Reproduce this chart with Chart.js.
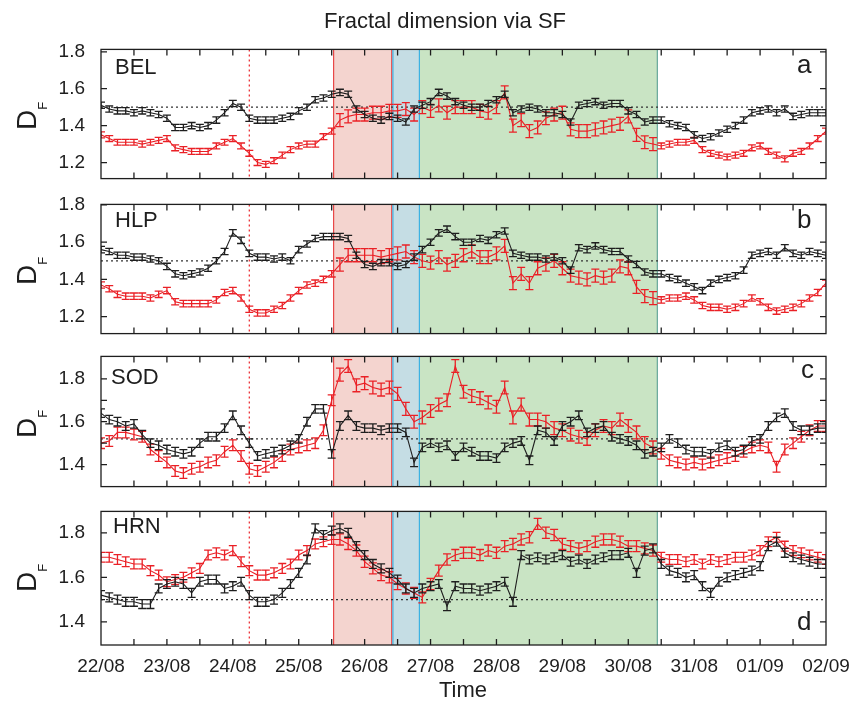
<!DOCTYPE html>
<html>
<head>
<meta charset="utf-8">
<script src="https://cdn.jsdelivr.net/npm/chart.js@4.4.1/dist/chart.umd.min.js"></script>
<style>
  body { margin: 0; background: #fff; }
  #page { position: relative; width: 857px; height: 707px; overflow: hidden;
          font-family: "Liberation Sans", Arial, sans-serif; color: #1e1e1e; }
  canvas { position: absolute; left: 0; }
  .txt { position: absolute; line-height: 1; white-space: nowrap; z-index: 5; }
  .ylab { position: absolute; line-height: 1; white-space: nowrap; z-index: 5;
          font-size: 28px; transform: translate(-50%, -50%) rotate(-90deg); }
  .ylab span { font-size: 13px; position: relative; top: 11px; }
</style>
</head>
<body>
<div id="page">
  <canvas id="panel0" width="857" height="168" style="top:30px"></canvas>
  <canvas id="panel1" width="857" height="168" style="top:185px"></canvas>
  <canvas id="panel2" width="857" height="169" style="top:337px"></canvas>
  <canvas id="panel3" width="857" height="215" style="top:492px"></canvas>

  <div class="txt" style="font-size:22px;left:445px;top:10px;transform:translateX(-50%)">Fractal dimension via SF</div>
  <div class="txt" style="font-size:22px;left:463px;top:679px;transform:translateX(-50%)">Time</div>

  <div class="ylab" style="left:27px;top:116px">D<span>F</span></div>
  <div class="ylab" style="left:27px;top:271px">D<span>F</span></div>
  <div class="ylab" style="left:27px;top:424px">D<span>F</span></div>
  <div class="ylab" style="left:27px;top:578px">D<span>F</span></div>

  <div class="txt" id="name0" style="font-size:22px;left:115px;top:56px"></div>
  <div class="txt" id="name1" style="font-size:22px;left:115px;top:209px"></div>
  <div class="txt" id="name2" style="font-size:22px;left:111px;top:366px"></div>
  <div class="txt" id="name3" style="font-size:22px;left:113px;top:515px"></div>

  <div class="txt" id="tag0" style="font-size:26px;left:797px;top:51px"></div>
  <div class="txt" id="tag1" style="font-size:26px;left:797px;top:206px"></div>
  <div class="txt" id="tag2" style="font-size:26px;left:801px;top:356px"></div>
  <div class="txt" id="tag3" style="font-size:26px;left:797px;top:608px"></div>
</div>

<script>
// x axis is days since 22/08 00:00, one sample every 3 hours
const dayLabels = ["22/08", "23/08", "24/08", "25/08", "26/08", "27/08", "28/08", "29/08", "30/08", "31/08", "01/09", "02/09"];
const dayTicks = [0, 1, 2, 3, 4, 5, 6, 7, 8, 9, 10, 11];
const sampleStep = 0.125;

const stations = ["BEL", "HLP", "SOD", "HRN"];
const panelTags = ["a", "b", "c", "d"];

const belBlack = [
  1.51, 1.49, 1.48, 1.48, 1.47, 1.48, 1.47, 1.46,
  1.44, 1.39, 1.39, 1.40, 1.39, 1.40, 1.43, 1.47,
  1.52, 1.50, 1.44, 1.43, 1.43, 1.43, 1.44, 1.45,
  1.48, 1.50, 1.54, 1.55, 1.57, 1.58, 1.57, 1.49,
  1.46, 1.44, 1.43, 1.45, 1.44, 1.42, 1.49, 1.51,
  1.53, 1.58, 1.56, 1.53, 1.51, 1.50, 1.50, 1.52,
  1.54, 1.57, 1.47, 1.49, 1.50, 1.49, 1.47, 1.47,
  1.46, 1.42, 1.51, 1.52, 1.53, 1.51, 1.52, 1.52,
  1.48, 1.46, 1.42, 1.43, 1.43, 1.41, 1.40, 1.39,
  1.35, 1.33, 1.34, 1.36, 1.38, 1.40, 1.43, 1.47,
  1.48, 1.49, 1.47, 1.49, 1.45, 1.46, 1.47, 1.47,
  1.47
];
const belRed = [
  1.35, 1.33, 1.31, 1.31, 1.31, 1.30, 1.31, 1.32,
  1.33, 1.28, 1.27, 1.26, 1.26, 1.26, 1.29, 1.31,
  1.33, 1.29, 1.25, 1.20, 1.19, 1.21, 1.24, 1.27,
  1.29, 1.30, 1.30, 1.34, 1.37, 1.43, 1.45, 1.46,
  1.46, 1.47, 1.47, 1.48, 1.48, 1.49, 1.46, 1.50,
  1.48, 1.51, 1.47, 1.50, 1.50, 1.50, 1.48, 1.47,
  1.50, 1.58, 1.40, 1.43, 1.37, 1.39, 1.44, 1.46,
  1.47, 1.38, 1.37, 1.37, 1.38, 1.39, 1.40, 1.41,
  1.45, 1.35, 1.31, 1.30, 1.29, 1.30, 1.31, 1.31,
  1.32, 1.27, 1.25, 1.24, 1.23, 1.24, 1.25, 1.28,
  1.29, 1.26, 1.24, 1.22, 1.25, 1.26, 1.29, 1.33,
  1.37
];
const hlpBlack = [
  1.56, 1.55, 1.53, 1.53, 1.52, 1.52, 1.51, 1.50,
  1.47, 1.43, 1.42, 1.43, 1.44, 1.46, 1.50, 1.55,
  1.65, 1.61, 1.54, 1.52, 1.52, 1.51, 1.52, 1.50,
  1.56, 1.59, 1.62, 1.63, 1.63, 1.63, 1.62, 1.53,
  1.48, 1.47, 1.49, 1.49, 1.47, 1.48, 1.52, 1.56,
  1.60, 1.65, 1.67, 1.63, 1.60, 1.60, 1.62, 1.61,
  1.64, 1.66, 1.54, 1.53, 1.52, 1.52, 1.51, 1.52,
  1.50, 1.45, 1.57, 1.56, 1.58, 1.56, 1.55, 1.55,
  1.51, 1.48, 1.44, 1.43, 1.43, 1.41, 1.40, 1.38,
  1.36, 1.34, 1.38, 1.40, 1.41, 1.42, 1.45, 1.53,
  1.54, 1.55, 1.53, 1.57, 1.54, 1.53, 1.55, 1.54,
  1.53
];
const hlpRed = [
  1.37, 1.35, 1.32, 1.31, 1.31, 1.31, 1.30, 1.32,
  1.34, 1.28, 1.27, 1.27, 1.27, 1.27, 1.29, 1.33,
  1.34, 1.30, 1.24, 1.22, 1.22, 1.24, 1.26, 1.30,
  1.34, 1.37, 1.38, 1.40, 1.43, 1.48, 1.53, 1.53,
  1.53, 1.53, 1.52, 1.53, 1.54, 1.55, 1.52, 1.50,
  1.49, 1.52, 1.48, 1.50, 1.53, 1.55, 1.52, 1.52,
  1.54, 1.58, 1.38, 1.43, 1.38, 1.46, 1.48, 1.50,
  1.46, 1.42, 1.41, 1.40, 1.42, 1.41, 1.42, 1.47,
  1.46, 1.36, 1.31, 1.30, 1.29, 1.30, 1.30, 1.31,
  1.29, 1.26, 1.25, 1.25, 1.24, 1.25, 1.27, 1.30,
  1.28, 1.25, 1.23, 1.24, 1.25, 1.27, 1.30, 1.33,
  1.38
];
const sodBlack = [
  1.64, 1.61, 1.60, 1.58, 1.59, 1.54, 1.50, 1.49,
  1.47, 1.46, 1.45, 1.46, 1.50, 1.53, 1.53, 1.57,
  1.63, 1.56, 1.50, 1.44, 1.45, 1.46, 1.47, 1.49,
  1.52, 1.60, 1.66, 1.66, 1.45, 1.58, 1.63, 1.58,
  1.57, 1.57, 1.56, 1.57, 1.57, 1.55, 1.41, 1.48,
  1.50, 1.48, 1.49, 1.44, 1.48, 1.46, 1.44, 1.44,
  1.43, 1.48, 1.50, 1.51, 1.42, 1.56, 1.55, 1.51,
  1.58, 1.60, 1.63, 1.55, 1.57, 1.58, 1.53, 1.52,
  1.51, 1.49, 1.45, 1.46, 1.48, 1.52, 1.50, 1.47,
  1.46, 1.46, 1.45, 1.48, 1.49, 1.46, 1.47, 1.51,
  1.52, 1.58, 1.62, 1.64, 1.58, 1.56, 1.56, 1.57,
  1.57
];
const sodRed = [
  1.50, 1.51, 1.55, 1.55, 1.54, 1.53, 1.47, 1.44,
  1.41, 1.37, 1.36, 1.38, 1.39, 1.41, 1.42, 1.46,
  1.49, 1.44, 1.38, 1.37, 1.39, 1.41, 1.44, 1.47,
  1.48, 1.49, 1.50, 1.56, 1.70, 1.82, 1.86, 1.77,
  1.78, 1.76, 1.75, 1.76, 1.73, 1.66, 1.60, 1.62,
  1.65, 1.68, 1.70, 1.86, 1.74, 1.72, 1.71, 1.69,
  1.67, 1.76, 1.62, 1.68, 1.61, 1.61, 1.60, 1.57,
  1.56, 1.54, 1.53, 1.52, 1.56, 1.58, 1.57, 1.61,
  1.58, 1.55, 1.50, 1.48, 1.45, 1.42, 1.41, 1.40,
  1.41, 1.40, 1.41, 1.42, 1.43, 1.44, 1.46, 1.48,
  1.49, 1.48, 1.39, 1.47, 1.50, 1.53, 1.56, 1.58,
  1.58
];
const hrnBlack = [
  1.52, 1.51, 1.50, 1.49, 1.49, 1.48, 1.48, 1.55,
  1.57, 1.58, 1.57, 1.53, 1.58, 1.59, 1.59, 1.55,
  1.56, 1.58, 1.52, 1.49, 1.49, 1.50, 1.53, 1.57,
  1.62, 1.68, 1.82, 1.79, 1.81, 1.82, 1.80, 1.74,
  1.70, 1.66, 1.64, 1.62, 1.59, 1.55, 1.53, 1.55,
  1.56, 1.57, 1.47, 1.56, 1.55, 1.55, 1.54, 1.55,
  1.56, 1.58, 1.49, 1.70, 1.68, 1.69, 1.68, 1.69,
  1.70, 1.67, 1.68, 1.66, 1.68, 1.69, 1.70, 1.70,
  1.71, 1.62, 1.72, 1.73, 1.66, 1.63, 1.62, 1.60,
  1.61, 1.56, 1.53, 1.58, 1.60, 1.61, 1.62, 1.63,
  1.65, 1.74, 1.76, 1.71, 1.69, 1.68, 1.67, 1.66,
  1.66
];
const hrnRed = [
  1.69, 1.69, 1.68, 1.67, 1.66, 1.66, 1.63, 1.61,
  1.58, 1.59, 1.60, 1.62, 1.64, 1.70, 1.71, 1.70,
  1.72, 1.67, 1.63, 1.61, 1.61, 1.62, 1.64, 1.66,
  1.70, 1.72, 1.75, 1.76, 1.77, 1.77, 1.75, 1.72,
  1.67, 1.64, 1.61, 1.60, 1.57, 1.55, 1.53, 1.51,
  1.57, 1.63, 1.68, 1.70, 1.71, 1.71, 1.70, 1.72,
  1.71, 1.74, 1.75, 1.77, 1.78, 1.84, 1.80, 1.79,
  1.75, 1.74, 1.73, 1.74, 1.76, 1.77, 1.77, 1.76,
  1.74, 1.74, 1.73, 1.72, 1.69, 1.68, 1.68, 1.67,
  1.68, 1.66, 1.68, 1.67, 1.68, 1.69, 1.69, 1.70,
  1.72, 1.76, 1.78, 1.74, 1.72, 1.71, 1.70, 1.69,
  1.68
];

const blackSeries = [belBlack, hlpBlack, sodBlack, hrnBlack];
const redSeries = [belRed, hlpRed, sodRed, hrnRed];

// error bar half-widths; red bars widen during the disturbed interval
const errBlack = [0.017, 0.017, 0.02, 0.02];
const errRed = [0.016, 0.017, 0.025, 0.022];
const errRedStorm = [0.035, 0.035, 0.03, 0.025];
const stormSpan = [3.52, 8.45];

const yRanges = [[1.113, 1.813], [1.109, 1.803], [1.297, 1.905], [1.296, 1.896]];
const yTicks = [[1.2, 1.4, 1.6, 1.8], [1.2, 1.4, 1.6, 1.8], [1.4, 1.5, 1.6, 1.7, 1.8], [1.4, 1.6, 1.8]];
const refLevels = [1.5, 1.5, 1.52, 1.5];

// event markers, in days
const onsetDay = 2.25;
const phases = [
  { from: 3.52, to: 4.42, fill: "rgb(244,212,207)", left: "rgb(232,72,72)", right: "rgb(232,72,72)" },
  { from: 4.42, to: 4.84, fill: "rgb(197,221,228)", left: "rgb(60,178,226)", right: "rgb(60,178,226)" },
  { from: 4.84, to: 8.45, fill: "rgb(201,228,196)", left: null, right: "rgb(104,168,156)" }
];

const ink = "#1e1e1e";
const redInk = "rgb(234,32,38)";
const tickFont = { family: '"Liberation Sans", Arial, sans-serif', size: 19 };

function toPoints(values) {
  return values.map((v, i) => ({ x: i * sampleStep, y: v }));
}

const panelDecor = {
  id: "panelDecor",
  beforeDatasetsDraw(chart) {
    const { ctx, chartArea: a, scales: { x, y } } = chart;
    const p = chart.options.plugins.panelDecor.panel;
    ctx.save();
    phases.forEach(ph => {
      const x0 = x.getPixelForValue(ph.from), x1 = x.getPixelForValue(ph.to);
      ctx.fillStyle = ph.fill;
      ctx.fillRect(x0, a.top, x1 - x0, a.bottom - a.top);
    });
    ctx.lineWidth = 1.2;
    phases.forEach(ph => {
      const x0 = x.getPixelForValue(ph.from), x1 = x.getPixelForValue(ph.to);
      if (ph.left) {
        ctx.strokeStyle = ph.left;
        ctx.beginPath(); ctx.moveTo(x0 + 0.6, a.top); ctx.lineTo(x0 + 0.6, a.bottom); ctx.stroke();
      }
      if (ph.right) {
        ctx.strokeStyle = ph.right;
        ctx.beginPath(); ctx.moveTo(x1 - 0.6, a.top); ctx.lineTo(x1 - 0.6, a.bottom); ctx.stroke();
      }
    });
    // reference level
    ctx.setLineDash([2, 3]);
    ctx.strokeStyle = "#333";
    ctx.lineWidth = 1.3;
    const yr = y.getPixelForValue(refLevels[p]);
    ctx.beginPath(); ctx.moveTo(a.left, yr); ctx.lineTo(a.right, yr); ctx.stroke();
    // onset marker
    ctx.strokeStyle = redInk;
    ctx.lineWidth = 1.2;
    const xo = x.getPixelForValue(onsetDay);
    ctx.beginPath(); ctx.moveTo(xo, a.top); ctx.lineTo(xo, a.bottom); ctx.stroke();
    ctx.restore();
  },
  afterDatasetDraw(chart, args) {
    const { ctx, chartArea: a, scales: { y } } = chart;
    const ds = chart.data.datasets[args.index];
    const cap = 4;
    ctx.save();
    ctx.beginPath();
    ctx.rect(a.left, a.top, a.width, a.height);
    ctx.clip();
    ctx.strokeStyle = ds.borderColor;
    ctx.lineWidth = 1.3;
    ctx.beginPath();
    args.meta.data.forEach((pt, i) => {
      const v = ds.data[i].y, e = ds.err[i];
      const yt = y.getPixelForValue(v + e), yb = y.getPixelForValue(v - e);
      ctx.moveTo(pt.x, yt); ctx.lineTo(pt.x, yb);
      ctx.moveTo(pt.x - cap, yt); ctx.lineTo(pt.x + cap, yt);
      ctx.moveTo(pt.x - cap, yb); ctx.lineTo(pt.x + cap, yb);
    });
    ctx.stroke();
    ctx.restore();
  },
  afterDraw(chart) {
    const { ctx, chartArea: a, scales: { x, y } } = chart;
    const p = chart.options.plugins.panelDecor.panel;
    const len = 6;
    ctx.save();
    ctx.strokeStyle = ink;
    ctx.lineWidth = 1.3;
    ctx.strokeRect(a.left, a.top, a.width, a.height);
    ctx.beginPath();
    for (let d = 0.5; d < 11; d += 0.5) {
      const px = x.getPixelForValue(d);
      ctx.moveTo(px, a.top); ctx.lineTo(px, a.top + len);
      ctx.moveTo(px, a.bottom); ctx.lineTo(px, a.bottom - len);
    }
    yTicks[p].forEach(v => {
      const py = y.getPixelForValue(v);
      ctx.moveTo(a.left, py); ctx.lineTo(a.left + len, py);
      ctx.moveTo(a.right, py); ctx.lineTo(a.right - len, py);
    });
    ctx.stroke();
    ctx.restore();
  }
};

function buildPanel(p) {
  const last = p === 3;
  const errFor = (values, quiet, storm) =>
    values.map((_, i) => {
      const t = i * sampleStep;
      return storm !== undefined && t >= stormSpan[0] && t <= stormSpan[1] ? storm : quiet;
    });

  document.getElementById("name" + p).textContent = stations[p];
  document.getElementById("tag" + p).textContent = panelTags[p];

  new Chart(document.getElementById("panel" + p), {
    type: "line",
    data: {
      datasets: [
        {
          data: toPoints(blackSeries[p]),
          err: errFor(blackSeries[p], errBlack[p]),
          borderColor: ink, borderWidth: 1.1, pointRadius: 0, tension: 0
        },
        {
          data: toPoints(redSeries[p]),
          err: errFor(redSeries[p], errRed[p], errRedStorm[p]),
          borderColor: redInk, borderWidth: 1.1, pointRadius: 0, tension: 0
        }
      ]
    },
    options: {
      responsive: false,
      animation: false,
      devicePixelRatio: 1,
      layout: { padding: { left: 0, right: 31, top: 15, bottom: last ? 32 : 15 } },
      plugins: {
        legend: { display: false },
        tooltip: { enabled: false },
        panelDecor: { panel: p }
      },
      scales: {
        x: {
          type: "linear", min: 0, max: 11, display: last,
          grid: { display: false }, border: { display: false },
          afterBuildTicks: s => { s.ticks = dayTicks.map(v => ({ value: v })); },
          afterFit: s => { s.height = last ? 30 : 0; },
          ticks: {
            autoSkip: false, maxRotation: 0, padding: 2, color: ink, font: tickFont,
            callback: (v, i) => dayLabels[i]
          }
        },
        y: {
          type: "linear", min: yRanges[p][0], max: yRanges[p][1],
          grid: { display: false }, border: { display: false },
          afterBuildTicks: s => { s.ticks = yTicks[p].map(v => ({ value: v })); },
          afterFit: s => { s.width = 101; },
          ticks: {
            padding: 8, color: ink, font: tickFont,
            callback: v => (Math.round(v * 10) % 2 === 0 ? v.toFixed(1) : "")
          }
        }
      }
    },
    plugins: [panelDecor]
  });
}

[0, 1, 2, 3].forEach(buildPanel);
</script>
</body>
</html>
